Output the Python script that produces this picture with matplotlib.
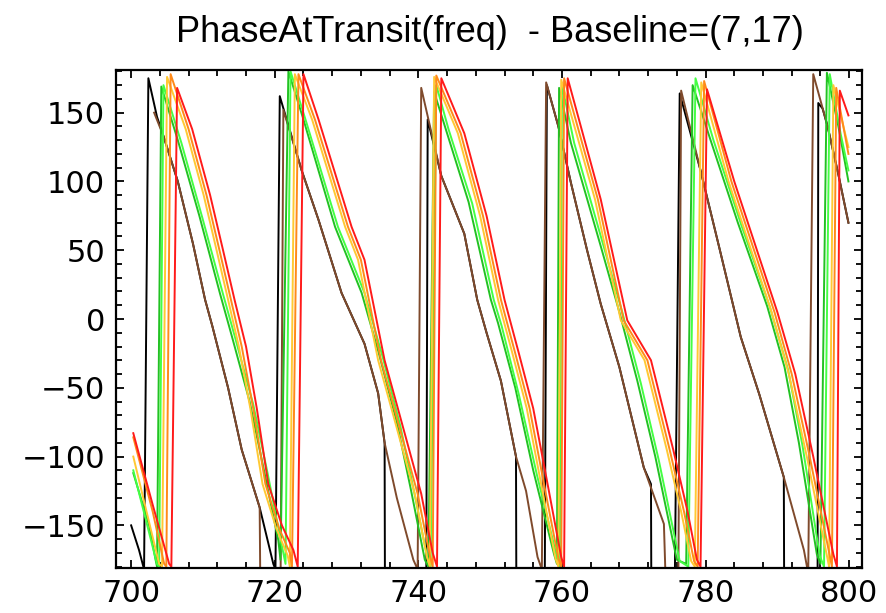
import matplotlib
matplotlib.use("Agg")
import matplotlib.pyplot as plt
from matplotlib.ticker import MultipleLocator

# vertices (x = freq, y = phase in degrees)
# values of -200 are points that fall off the bottom of the plot
black_x = [700.0, 701.1, 701.8, 702.4, 703.6, 704.5, 706.5, 708.6, 710.3, 711.3, 713.5, 715.4, 717.9, 719.8,
           720.1, 720.7, 723.75, 726.1, 729.3, 732.5, 734.4, 735.3, 735.35,
           741.1, 741.3, 743.2, 746.4, 748.2, 749.5, 751.5, 753.6, 753.65,
           757.6, 757.9, 759.5, 761.25, 763.5, 765.4, 768.0, 771.4, 772.4, 772.45,
           775.7, 776.4, 779.3, 782.0, 784.9, 787.5, 790.9, 790.95,
           795.6, 795.7, 796.3, 797.0, 798.5, 799.9]
black_y = [-150, -168, -182, 175, 147, 133, 100, 55, 14, -5, -50, -95, -137, -178,
           -182, 162, 108, 72, 19, -18, -54, -90, -200,
           -200, 145, 104, 62, 14, -10, -45, -100, -200,
           -200, 170, 140, 99, 50, 11, -35, -108, -120, -200,
           -200, 164, 108, 50, -13, -55, -115, -200,
           -200, 157, 153, 140, 105, 70]

brown_x = [703.2, 704.5, 706.5, 708.6, 710.3, 711.3, 713.5, 715.4, 717.9, 718.0,
           720.8, 721.2, 723.75, 726.1, 729.3, 732.5, 734.4, 735.3, 737.0, 739.3,
           739.9, 740.4, 743.2, 746.4, 748.2, 749.5, 751.5, 753.6, 755.0, 756.6,
           757.2, 757.8, 759.5, 761.25, 763.5, 765.4, 768.0, 771.4, 774.2, 774.5,
           776.2, 776.6, 779.3, 782.0, 784.9, 787.5, 790.9, 793.7,
           794.3, 795.0, 797.0, 798.5, 799.9]
brown_y = [150, 133, 100, 55, 14, -5, -50, -95, -137, -200,
           -200, 152, 108, 72, 19, -18, -54, -90, -130, -175,
           -182, 168, 104, 62, 14, -10, -45, -100, -125, -173,
           -182, 172, 140, 99, 50, 11, -35, -108, -149, -200,
           -200, 166, 108, 50, -13, -55, -115, -168,
           -185, 178, 140, 105, 70]

green_x = [700.3, 702.5, 703.4, 703.6, 704.2, 706.5, 709.5, 712.4, 714.0, 716.5, 718.5, 720.5,
           720.8, 721.9, 724.0, 728.4, 732.1, 734.5, 737.0, 739.0, 740.9,
           741.4, 742.2, 743.7, 747.0, 750.1, 751.1, 753.5, 756.0, 758.9,
           759.3, 759.6, 761.25, 765.4, 768.0, 770.5, 773.0, 776.0,
           777.3, 778.2, 780.7, 784.5, 788.6, 791.0, 793.0, 795.5,
           796.0, 796.9, 798.5, 799.9]
green_y = [-112, -150, -175, -180, 169, 130, 75, 18, -12, -60, -110, -161,
           -175, 180, 145, 67, 19, -25, -75, -125, -175,
           -180, 165, 140, 85, 14, -3, -50, -110, -171,
           -178, 168, 128, 53, 5, -45, -100, -175,
           -178, 170, 130, 70, 9, -35, -90, -171,
           -178, 179, 140, 100]

lime_x = [700.3, 703.6, 703.9, 704.5, 707.0, 710.0, 712.8, 714.4, 717.0, 719.0, 721.0,
          721.5, 722.2, 724.4, 728.8, 732.5, 735.0, 737.5, 739.5, 741.3,
          741.7, 742.5, 744.2, 747.5, 750.5, 751.6, 754.0, 756.5, 759.3,
          759.7, 760.0, 761.7, 765.8, 768.4, 771.0, 773.5, 776.4,
          777.6, 778.6, 781.1, 785.0, 789.0, 791.5, 793.5, 795.9,
          796.5, 797.3, 798.8, 799.9]
lime_y = [-110, -178, -180, 170, 128, 72, 18, -12, -62, -112, -165,
          -178, 180, 143, 67, 19, -27, -78, -128, -175,
          -180, 170, 138, 84, 14, -5, -55, -113, -173,
          -180, 170, 128, 53, 5, -47, -103, -176,
          -180, 175, 130, 68, 8, -37, -92, -172,
          -180, 178, 135, 108]

yellow_x = [700.3, 703.9, 704.3, 705.0, 707.6, 710.1, 711.9, 713.5, 715.0, 716.6, 718.3, 720.2, 721.8,
            722.1, 722.8, 725.2, 729.8, 731.6, 734.4, 736.3, 739.5, 741.2,
            741.6, 742.2, 745.5, 748.6, 751.1, 753.1, 755.1, 757.1, 759.1,
            759.5, 759.9, 764.6, 768.2, 771.5, 774.6, 776.6, 778.0,
            778.5, 779.4, 783.2, 786.8, 789.2, 791.6, 794.1, 796.9,
            797.2, 797.8, 799.9]
yellow_y = [-100, -178, -180, 176, 138, 90, 50, 14, -20, -65, -120, -152, -172,
            -180, 178, 145, 67, 43, -30, -66, -127, -173,
            -180, 176, 135, 75, 14, -25, -65, -120, -174,
            -180, 174, 87, -1, -30, -95, -140, -176,
            -180, 172, 100, 43, 5, -40, -100, -172,
            -180, 170, 125]

orange_x = [700.3, 703.0, 704.6, 704.9, 705.5, 708.0, 710.5, 712.3, 713.9, 715.4, 717.0, 718.7, 720.6, 722.1,
            722.4, 723.3, 725.6, 730.2, 732.0, 734.8, 736.7, 739.9, 741.6,
            742.0, 742.5, 745.9, 749.0, 751.5, 753.5, 755.5, 757.5, 759.5,
            759.9, 760.3, 765.0, 768.6, 771.9, 775.0, 777.0, 778.4,
            778.9, 779.8, 783.6, 787.2, 789.6, 792.0, 794.5, 797.3,
            797.6, 798.2, 799.9]
orange_y = [-86, -140, -178, -180, 178, 138, 90, 50, 14, -20, -65, -120, -152, -170,
            -180, 178, 145, 67, 43, -30, -66, -127, -172,
            -180, 177, 135, 75, 14, -25, -65, -120, -174,
            -180, 175, 87, -1, -30, -95, -140, -176,
            -180, 173, 100, 43, 5, -40, -100, -172,
            -180, 168, 120]

red_x = [700.3, 703.0, 705.3, 705.6, 706.4, 708.5, 711.0, 712.8, 714.4, 716.0, 717.5, 719.1, 721.0, 722.6,
         723.2, 724.0, 726.1, 730.7, 732.5, 735.3, 737.2, 740.4, 742.0,
         742.6, 743.2, 746.4, 749.5, 752.0, 754.0, 756.0, 758.0, 759.9,
         760.3, 760.8, 765.4, 769.1, 772.4, 775.5, 777.5, 778.8,
         779.3, 780.2, 784.0, 787.6, 790.0, 792.5, 795.0, 797.8,
         798.3, 798.7, 799.9]
red_y = [-83, -135, -178, -180, 168, 138, 90, 50, 14, -20, -65, -120, -150, -168,
         -180, 178, 145, 67, 43, -30, -66, -127, -170,
         -180, 175, 135, 75, 14, -25, -65, -120, -173,
         -180, 175, 87, -1, -30, -95, -140, -175,
         -180, 167, 100, 43, 5, -40, -100, -171,
         -180, 166, 148]

series = [
    (black_x, black_y, '#000000'),
    (brown_x, brown_y, '#7f4a2c'),
    (green_x, green_y, '#22c222'),
    (lime_x, lime_y, '#44ff44'),
    (yellow_x, yellow_y, '#ffc933'),
    (orange_x, orange_y, '#ff8a1a'),
    (red_x, red_y, '#ff1a1a'),
]

fig = plt.figure(figsize=(8.86, 6.13), dpi=100)
ax = fig.add_axes([0.131, 0.0734, 0.842, 0.8124])

for xs, ys, col in series:
    ax.plot(xs, ys, color=col, lw=1.4, solid_joinstyle='round')

ax.set_xlim(697.9, 801.8)
ax.set_ylim(-181, 181)

ax.xaxis.set_major_locator(MultipleLocator(20))
ax.xaxis.set_minor_locator(MultipleLocator(4))
ax.yaxis.set_major_locator(MultipleLocator(50))
ax.yaxis.set_minor_locator(MultipleLocator(10))
ax.tick_params(which='both', direction='in', top=True, right=True, width=1.3,
               labelsize=22, pad=8)
ax.tick_params(which='major', length=6)
ax.tick_params(which='minor', length=4)
for sp in ax.spines.values():
    sp.set_linewidth(1.6)

fig.text(0.553, 1 - 33 / 613, 'PhaseAtTransit(freq)  - Baseline=(7,17)',
         ha='center', va='center', fontsize=26,
         family=['Liberation Sans Narrow', 'Liberation Sans', 'DejaVu Sans'])

fig.savefig('out.png', dpi=100)
